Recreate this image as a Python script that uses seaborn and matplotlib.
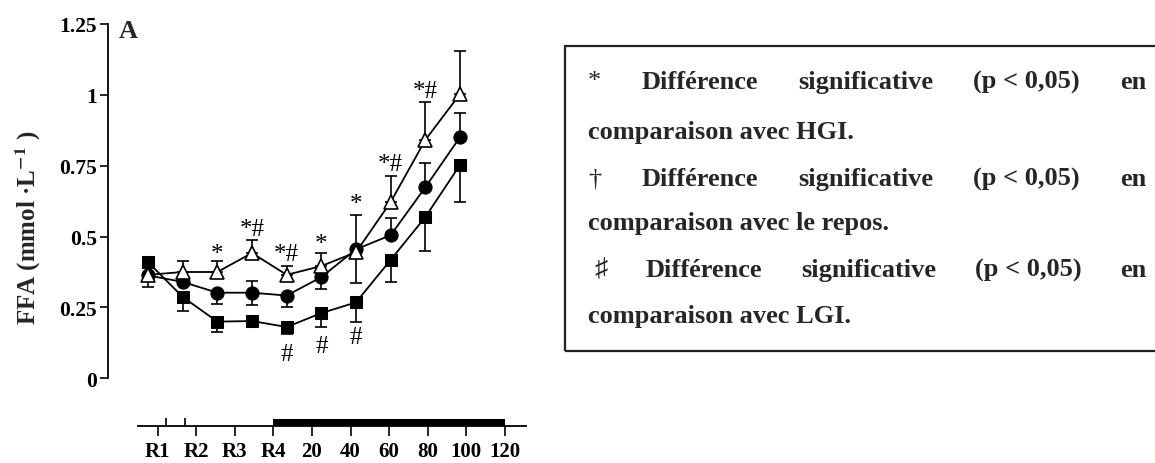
import numpy as np
import pandas as pd
import matplotlib
matplotlib.use("Agg")
import matplotlib.pyplot as plt
from matplotlib.patches import Rectangle
import seaborn as sns

# Valeurs (FFA, mmol/L)
points = list(range(10))
triangle_vals = [0.365, 0.375, 0.375, 0.442, 0.365, 0.396, 0.445, 0.622, 0.841, 1.003]
triangle_err_haut = [0.0, 0.038, 0.038, 0.046, 0.031, 0.046, 0.131, 0.092, 0.134, 0.152]
cercle_vals = [0.363, 0.340, 0.302, 0.302, 0.292, 0.357, 0.455, 0.505, 0.674, 0.851]
cercle_err_bas = [0.040, 0.0, 0.040, 0.043, 0.040, 0.042, 0.119, 0.0, 0.0, 0.0]
cercle_err_haut = [0.0, 0.0, 0.0, 0.041, 0.0, 0.0, 0.0, 0.061, 0.086, 0.086]
carre_vals = [0.410, 0.287, 0.200, 0.202, 0.181, 0.230, 0.268, 0.418, 0.569, 0.753]
carre_err_bas = [0.0, 0.049, 0.036, 0.0, 0.025, 0.050, 0.070, 0.079, 0.120, 0.131]

# annotations de significativite (point, y, texte)
annot_haut = [(2, 0.439, "*"), (3, 0.527, "*#"), (4, 0.439, "*#"), (5, 0.474, "*"),
              (6, 0.615, "*"), (7, 0.756, "*#"), (8, 1.014, "*#")]
annot_bas = [(4, 0.086, "#"), (5, 0.114, "#"), (6, 0.146, "#")]

y_ticks = [0, 0.25, 0.5, 0.75, 1, 1.25]
y_labels = ["0", "0.25", "0.5", "0.75", "1", "1.25"]
temps_labels = ["R1", "R2", "R3", "R4", "20", "40", "60", "80", "100", "120"]
debut_exercice, fin_exercice = 3, 9
petits_traits = [0.22, 0.72]

lignes_legende = [
    ["*", "Différence", "significative", "(p < 0,05)", "en"],
    ["comparaison avec HGI."],
    ["†", "Différence", "significative", "(p < 0,05)", "en"],
    ["comparaison avec le repos."],
    ["♯", "Différence", "significative", "(p < 0,05)", "en"],
    ["comparaison avec LGI."],
]

sns.set_style("white")
plt.rcParams['font.family'] = ['Liberation Serif', 'DejaVu Sans']
plt.rcParams['mathtext.fontset'] = 'stix'

W, H = 1155, 464
fig = plt.figure(figsize=(W / 100, H / 100), dpi=100)

def fx(px):
    return px / W

def fy(py):
    return 1 - py / H

# axe principal
ax = fig.add_axes([fx(108), fy(379.3), fx(414), 354.3 / H])
df = pd.DataFrame({"point": points, "triangle": triangle_vals,
                   "cercle": cercle_vals, "carre": carre_vals})

err_style = dict(fmt='none', ecolor='black', elinewidth=1.2, capsize=4.6, capthick=1.2, zorder=2)
ax.errorbar(points, triangle_vals, yerr=[np.zeros(10), triangle_err_haut], **err_style)
ax.errorbar(points, cercle_vals, yerr=[cercle_err_bas, cercle_err_haut], **err_style)
ax.errorbar(points, carre_vals, yerr=[carre_err_bas, np.zeros(10)], **err_style)

sns.lineplot(data=df, x="point", y="carre", color='black', marker='s', markersize=9.2,
             markerfacecolor='black', markeredgecolor='black', linewidth=1.3, ax=ax, zorder=3)
sns.lineplot(data=df, x="point", y="cercle", color='black', marker='o', markersize=9.5,
             markerfacecolor='black', markeredgecolor='black', linewidth=1.3, ax=ax, zorder=4)
sns.lineplot(data=df, x="point", y="triangle", color='black', marker='^', markersize=9.5,
             markerfacecolor='white', markeredgecolor='black', markeredgewidth=1.2,
             linewidth=1.3, ax=ax, zorder=5)

for i, y, t in annot_haut + annot_bas:
    ax.text(i, y, t, ha='center', va='center', fontsize=18, color='black')

ax.set_xlim(-40 / 34.67, 374 / 34.67)
ax.set_ylim(0, 1.25)
ax.set_yticks(y_ticks)
ax.set_yticklabels(y_labels, fontsize=15.5, fontweight='bold')
ax.set_xticks([])
ax.set_xlabel("")
ax.set_ylabel("")
for s in ["top", "right", "bottom"]:
    ax.spines[s].set_visible(False)
ax.spines["left"].set_color('black')
ax.spines["left"].set_linewidth(1.3)
ax.tick_params(axis='y', direction='out', length=6, width=1.2, pad=2, left=True, colors='black')
ax.patch.set_alpha(0)

fig.text(fx(128), fy(32), "A", ha='center', va='center', fontsize=19, fontweight='bold')
fig.text(fx(28), fy(228), r"FFA (mmol ·L$^{\mathbf{-1}}$ )", rotation=90, ha='center',
         va='center', fontsize=18, fontweight='bold')

# axe du temps
axt = fig.add_axes([fx(138), fy(427), fx(388), 8 / H])
axt.set_xlim((138 - 157.5) / 38.6, (526 - 157.5) / 38.6)
axt.set_ylim(0, 1)
axt.fill_between([debut_exercice, fin_exercice], 0, 0.85, color='black', linewidth=0)
axt.vlines(petits_traits, 0, 1, color='black', linewidth=1.2)
axt.set_xticks(range(len(temps_labels)))
axt.set_xticklabels(temps_labels, fontsize=15, fontweight='bold')
axt.set_yticks([])
for s in ["top", "right", "left"]:
    axt.spines[s].set_visible(False)
axt.spines["bottom"].set_color('black')
axt.spines["bottom"].set_linewidth(1.3)
axt.tick_params(axis='x', direction='out', length=7.5, width=1.2, pad=3, bottom=True, colors='black')
axt.patch.set_alpha(0)

# cadre de legende
fig.patches.append(Rectangle((fx(565), fy(352)), fx(600), 305 / H, transform=fig.transFigure,
                             fill=False, edgecolor='#222222', linewidth=1.6))

rangs_y = [80, 130, 177, 221, 268, 314]
x_gauche, x_droite = 588, 1146
taille_leg = 19
fig.canvas.draw()
rend = fig.canvas.get_renderer()
for mots, yy in zip(lignes_legende, rangs_y):
    if len(mots) == 1:
        fig.text(fx(x_gauche), fy(yy), mots[0], ha='left', va='center_baseline',
                 fontsize=taille_leg, fontweight='bold')
        continue
    objs = []
    for k, m in enumerate(mots):
        poids = 'normal' if k == 0 else 'bold'
        objs.append(fig.text(0, fy(yy), m, ha='left', va='center_baseline',
                             fontsize=taille_leg, fontweight=poids))
    larg = [o.get_window_extent(renderer=rend).width for o in objs]
    debut = x_gauche + (6 if mots[0] == "♯" else 0)
    ecart = (x_droite - debut - sum(larg)) / (len(objs) - 1)
    xpos = debut
    for o, w in zip(objs, larg):
        o.set_x(fx(xpos))
        xpos += w + ecart

fig.savefig("out.png", dpi=100)
